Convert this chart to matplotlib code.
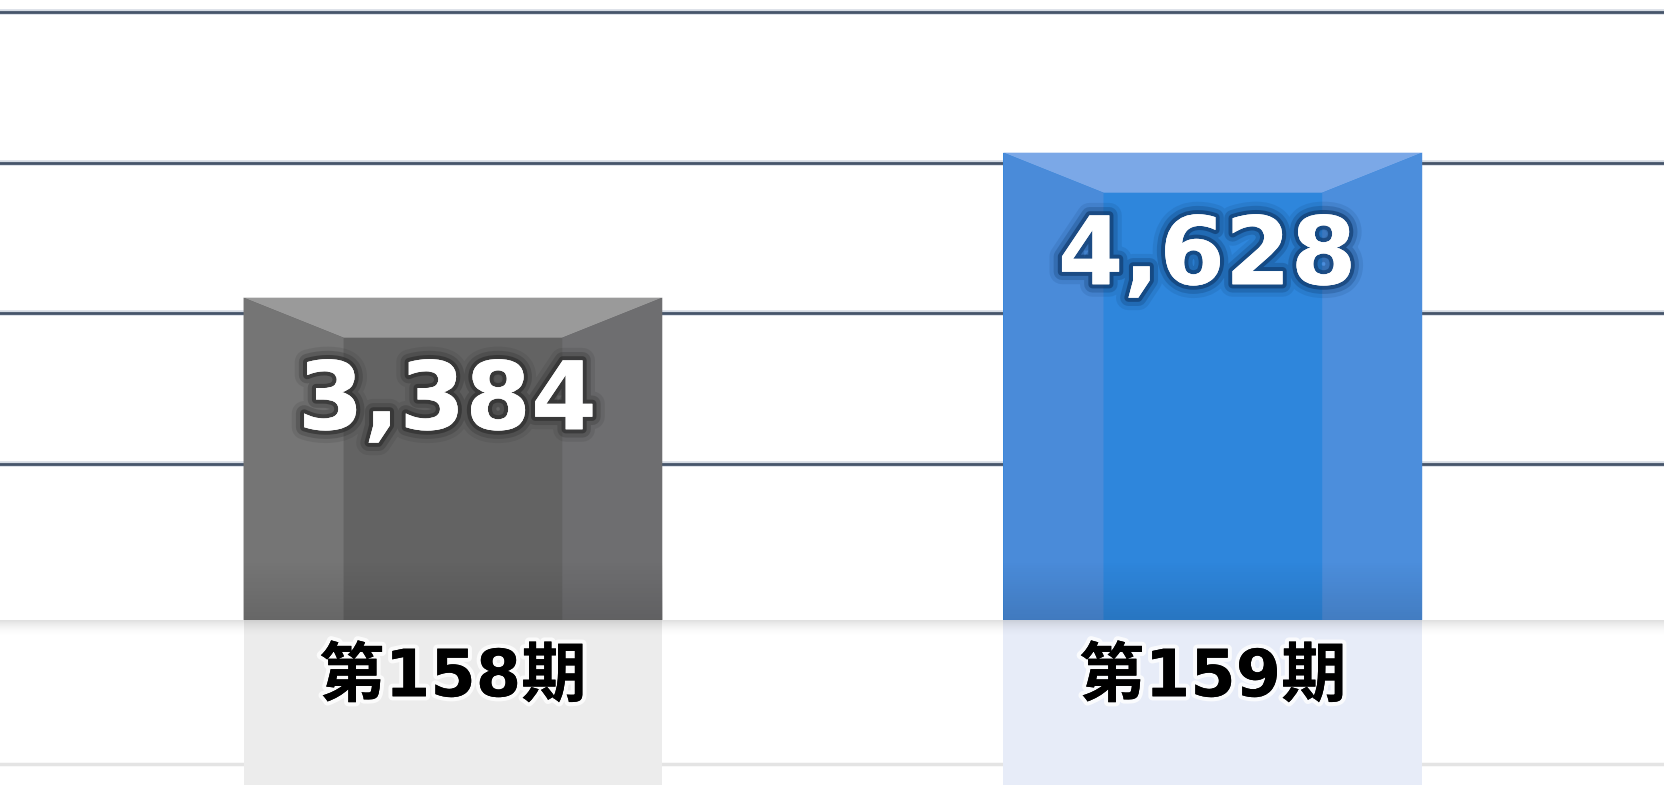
import numpy as np
import matplotlib.pyplot as plt
import matplotlib.patheffects as pe
from matplotlib.patches import Polygon

plt.rcParams['font.family'] = ['DejaVu Sans', 'Noto Sans CJK JP']

# data
periods = ['第158期', '第159期']
values = [3384, 4628]
grid_levels = [1957, 3250, 4543, 5836]

# axis frame (the chart is not drawn from zero)
y_floor = 619
y_lo, y_hi = -797, 5938
x_lo, x_hi = -0.596, 1.595

facets = [
    {'top': '#9a9a9a', 'left': '#757575', 'mid': '#636363', 'right': '#6e6e70',
     'glow': '#2a2a2a', 'refl': '#ececec'},
    {'top': '#7ba8e7', 'left': '#4a8bd9', 'mid': '#2e86dc', 'right': '#4c8edc',
     'glow': '#0d3566', 'refl': '#e7ecf8'},
]

fig = plt.figure(figsize=(16.65, 7.85), dpi=100)
ax = fig.add_axes([0, 0, 1, 1])
ax.set_xlim(x_lo, x_hi)
ax.set_ylim(y_lo, y_hi)
ax.axis('off')

px_y = (y_hi - y_lo) / 785.0
px_x = (x_hi - x_lo) / 1665.0

for g in grid_levels:
    ax.axhline(g, color='#d5dbe3', lw=4.0, zorder=1)
    ax.axhline(g, color='#46556a', lw=2.0, zorder=1)

# faint reflected gridline
ax.axhline(y_floor - 144 * px_y, color='#e4e4e4', lw=2.5, zorder=1)

x = np.arange(len(values))
width = 0.551
heights = [v - y_floor for v in values]
bars = ax.bar(x, heights, width=width, bottom=y_floor, zorder=3,
              color=[f['mid'] for f in facets], linewidth=0)

# reflections below the base line
for xi, f in zip(x, facets):
    ax.bar(xi, y_floor - y_lo, width=width, bottom=y_lo,
           color=f['refl'], linewidth=0, zorder=2)

# soft shadow just under the base line
shade = np.zeros((60, 1, 4))
shade[..., 3] = (np.linspace(1, 0, 60) ** 2 * 0.13).reshape(-1, 1)
ax.imshow(shade, extent=(x_lo, x_hi, y_floor - 18 * px_y, y_floor),
          aspect='auto', zorder=2.5, interpolation='bilinear')

# bevel facets
bx, by = 100 * px_x, 40 * px_y
for b, f in zip(bars, facets):
    x0 = b.get_x()
    x1 = x0 + b.get_width()
    top = b.get_y() + b.get_height()
    bot = b.get_y()
    ax.add_patch(Polygon([(x0, top), (x1, top), (x1 - bx, top - by), (x0 + bx, top - by)],
                         closed=True, color=f['top'], lw=0, zorder=4))
    ax.add_patch(Polygon([(x0, top), (x0 + bx, top - by), (x0 + bx, bot), (x0, bot)],
                         closed=True, color=f['left'], lw=0, zorder=4))
    ax.add_patch(Polygon([(x1, top), (x1 - bx, top - by), (x1 - bx, bot), (x1, bot)],
                         closed=True, color=f['right'], lw=0, zorder=4))

# bottom darkening of bars
dark = np.zeros((40, 1, 4))
dark[..., 3] = np.linspace(0, 0.12, 40).reshape(-1, 1)
for b in bars:
    ax.imshow(dark, extent=(b.get_x(), b.get_x() + b.get_width(), y_floor, y_floor + 60 * px_y),
              aspect='auto', zorder=4.5, interpolation='bilinear')

for xi, v, f in zip(x, values, facets):
    glow = [pe.withStroke(linewidth=18, foreground=f['glow'], alpha=0.12),
            pe.withStroke(linewidth=12, foreground=f['glow'], alpha=0.25),
            pe.withStroke(linewidth=6, foreground=f['glow'], alpha=0.6),
            pe.Normal()]
    ax.annotate(f'{v:,}', xy=(xi, v), xytext=(-4, -76), textcoords='offset points',
                ha='center', va='center', fontsize=68, fontweight='bold',
                color='white', zorder=6, path_effects=glow)

for xi, name in zip(x, periods):
    ax.annotate(name, xy=(xi, y_floor), xytext=(0, -42), textcoords='offset points',
                ha='center', va='center', fontsize=47, fontweight='bold',
                color='black', zorder=6,
                path_effects=[pe.withStroke(linewidth=6, foreground='white', alpha=0.8),
                              pe.Normal()])

fig.savefig('out.png', dpi=100)
